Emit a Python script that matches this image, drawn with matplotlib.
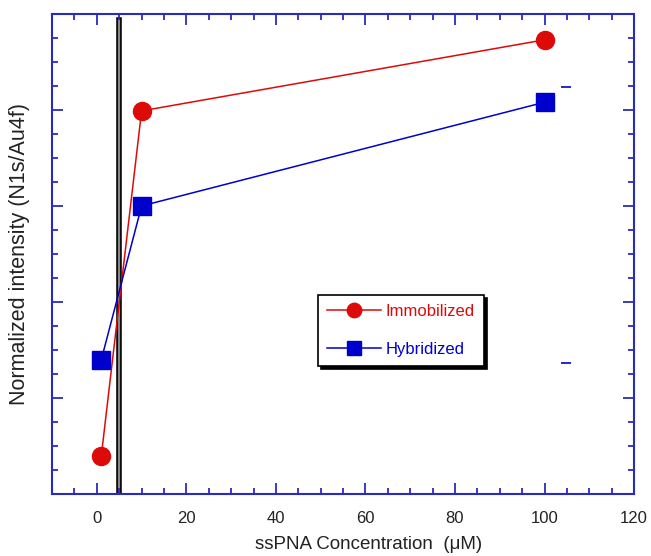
import matplotlib.pyplot as plt
from matplotlib.ticker import MultipleLocator, NullFormatter

plt.rcParams['font.family'] = ['Liberation Sans', 'DejaVu Sans']

conc = [1, 10, 100]
immobilized = [0.40, 3.99, 4.73]
hybridized = [1.40, 3.00, 4.08]
stray_x = [104.7, 104.7]
stray_y = [4.24, 1.36]
divider_x = 5

red = '#dd0a0a'
blue = '#0000cc'
spine_blue = '#2a2ac0'

fig = plt.figure(figsize=(6.51, 5.56), dpi=100)
ax = fig.add_axes([0.080, 0.1115, 0.894, 0.8635])

ax.axvline(divider_x, ymin=0, ymax=0.9875, color='black', lw=4, zorder=1)
ax.axvline(divider_x, ymin=0, ymax=0.9875, color='#888888', lw=1.6, zorder=1)

ax.plot(conc, immobilized, color=red, lw=1.1, marker='o', ms=13,
        mec=red, mfc=red, label='Immobilized', zorder=3)
ax.plot(conc, hybridized, color=blue, lw=1.1, marker='s', ms=13,
        mec=blue, mfc=blue, label='Hybridized', zorder=3)
ax.plot(stray_x, stray_y, ls='none', marker='_', ms=7, mew=1.2, color=blue)

ax.set_xlim(-10, 120)
ax.set_ylim(0, 5)
ax.xaxis.set_major_locator(MultipleLocator(20))
ax.xaxis.set_minor_locator(MultipleLocator(5))
ax.yaxis.set_major_locator(MultipleLocator(1))
ax.yaxis.set_minor_locator(MultipleLocator(0.25))
ax.yaxis.set_major_formatter(NullFormatter())

for s in ax.spines.values():
    s.set_color(spine_blue)
    s.set_linewidth(1.5)
ax.tick_params(which='both', direction='in', top=True, right=True,
               color=spine_blue, width=1.3)
ax.tick_params(which='major', length=8, labelsize=12, labelcolor='#222222')
ax.tick_params(which='minor', length=4)
ax.tick_params(axis='x', which='major', pad=12)

ax.set_xlabel('ssPNA Concentration  (\u03bcM)', fontsize=13.5, color='#222222')
ax.set_ylabel('Normalized intensity (N1s/Au4f)', fontsize=15.5, color='#222222')
ax.xaxis.set_label_coords(0.543, -0.088)
ax.yaxis.set_label_coords(-0.038, 0.5)

leg = ax.legend(loc='upper left', bbox_to_anchor=(0.457, 0.415), borderaxespad=0,
                frameon=True, fancybox=False, shadow={'color': 'black', 'alpha': 1},
                edgecolor='black', fontsize=12, labelcolor='linecolor', markerscale=0.8,
                handlelength=3.2, borderpad=0.55, labelspacing=1.4, handletextpad=0.3)
leg.get_frame().set_linewidth(1.2)

fig.savefig('out.png', dpi=100)
